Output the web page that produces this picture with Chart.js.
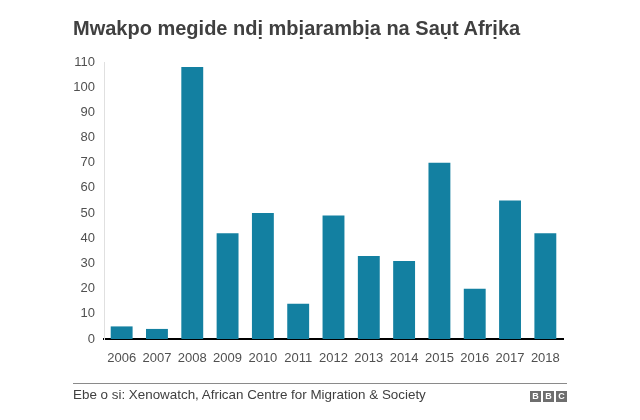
<!DOCTYPE html>
<html>
<head>
<meta charset="utf-8">
<script src="https://cdn.jsdelivr.net/npm/chart.js@4/dist/chart.umd.min.js"></script>
<style>
  html, body { margin:0; padding:0; background:#fff; }
  #wrap { position:relative; width:640px; height:420px; overflow:hidden; font-family:"Liberation Sans", Arial, sans-serif; }
  #title { position:absolute; left:73px; top:17px; font-size:20px; font-weight:bold; color:#404040; white-space:nowrap; }
  #chartbox { position:absolute; left:0; top:0; width:640px; height:420px; }
  #rule { position:absolute; left:73px; top:383px; width:494px; height:0; border-top:1px solid #8a8a8a; }
  #source { position:absolute; left:73px; top:387px; font-size:13.4px; color:#404040; white-space:nowrap; }
  #bbc { position:absolute; left:530px; top:391px; display:flex; gap:2px; }
  #bbc span { display:block; width:11px; height:11px; background:#6e6e6e; color:#fff; font-size:9px; font-weight:bold; line-height:11px; text-align:center; }
</style>
</head>
<body>
<div id="wrap">
  <div id="chartbox"><canvas id="c" width="640" height="420"></canvas></div>
  <div id="title">Mwakpo megide ndị mbịarambịa na Saụt Afrịka</div>
  <div id="rule"></div>
  <div id="source">Ebe o si: Xenowatch, African Centre for Migration &amp; Society</div>
  <div id="bbc"><span>B</span><span>B</span><span>C</span></div>
</div>
<script>
const years = ["2006","2007","2008","2009","2010","2011","2012","2013","2014","2015","2016","2017","2018"];
const attacks = [5, 4, 108, 42, 50, 14, 49, 33, 31, 70, 20, 55, 42];
const yTicks = [0,10,20,30,40,50,60,70,80,90,100,110];

new Chart(document.getElementById('c'), {
  type: 'bar',
  data: {
    labels: years,
    datasets: [{
      data: attacks,
      backgroundColor: '#1380A1',
      borderWidth: 0,
      categoryPercentage: 1,
      barPercentage: 0.62
    }]
  },
  options: {
    responsive: false,
    animation: false,
    devicePixelRatio: 1,
    layout: { padding: { top: 62, right: 77, left: 0, bottom: 0 } },
    plugins: { legend: { display: false }, tooltip: { enabled: false }, title: { display: false } },
    scales: {
      x: {
        offset: true,
        grid: { display: false, drawTicks: false },
        border: { display: true, color: '#000', width: 2 },
        ticks: { color: '#505050', font: { family: 'Liberation Sans', size: 13 }, maxRotation: 0, autoSkip: false, padding: 12 },
        afterFit: (s) => { s.height = 81; }
      },
      y: {
        min: 0, max: 110,
        grid: { display: false, drawTicks: false },
        border: { display: true, color: '#e0e0e0', width: 1 },
        afterBuildTicks: (s) => { s.ticks = yTicks.map(v => ({ value: v })); },
        ticks: { color: '#505050', font: { family: 'Liberation Sans', size: 13 }, padding: 9 },
        afterFit: (s) => { s.width = 104; }
      }
    }
  }
});
</script>
</body>
</html>
